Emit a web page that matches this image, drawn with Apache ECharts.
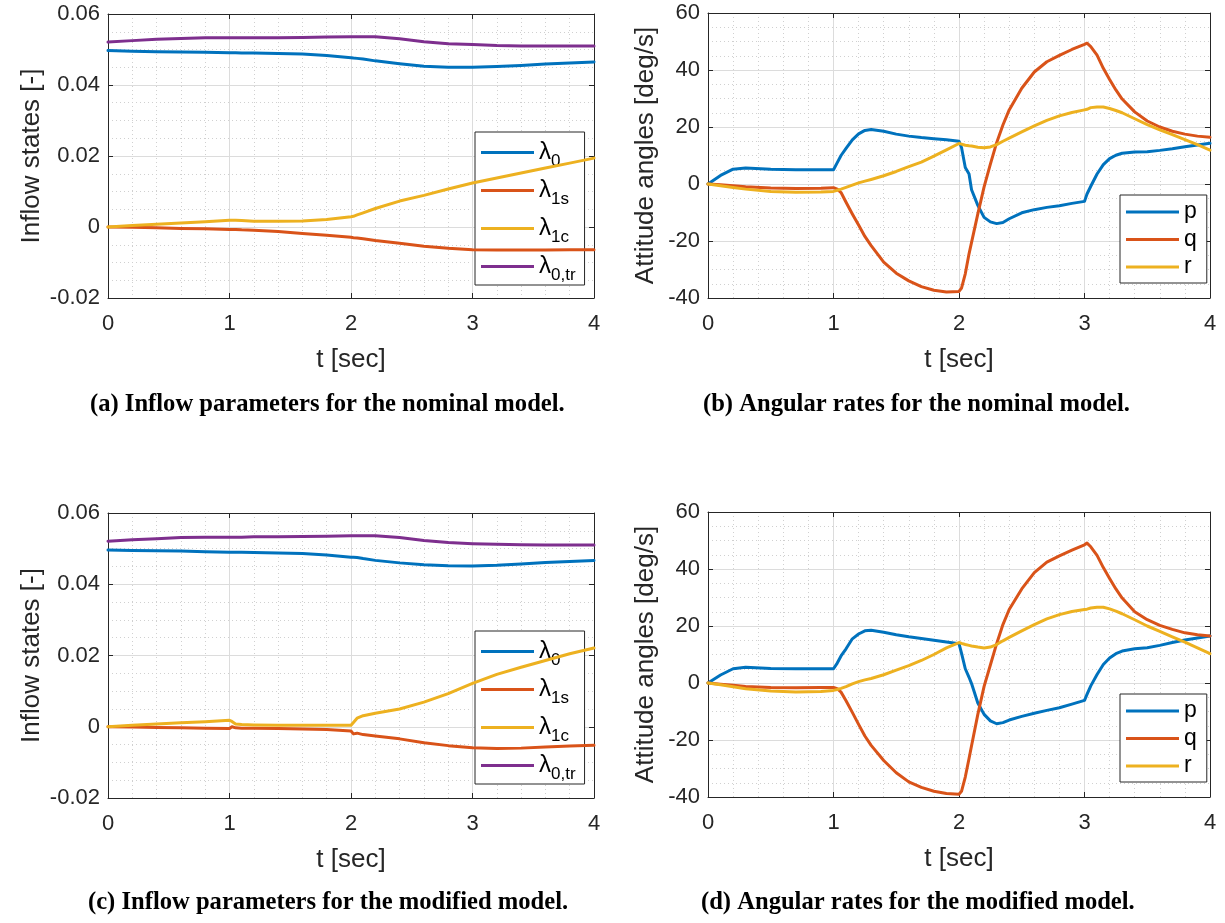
<!DOCTYPE html>
<html>
<head>
<meta charset="utf-8">
<script src="https://cdn.jsdelivr.net/npm/echarts@6/dist/echarts.min.js"></script>
<style>
html,body{margin:0;padding:0;background:#fff;}
#chart{width:1225px;height:923px;}
</style>
</head>
<body>
<div id="chart"></div>
<script>
// ---------- DATA ----------
const xTicks = [0, 1, 2, 3, 4];
const inflowTicks = [-0.02, 0, 0.02, 0.04, 0.06];
const rateTicks = [-40, -20, 0, 20, 40, 60];

const inflowNames = ['λ0', 'λ1s', 'λ1c', 'λ0,tr'];
const rateNames = ['p', 'q', 'r'];

const captions = [
  '(a) Inflow parameters for the nominal model.',
  '(b) Angular rates for the nominal model.',
  '(c) Inflow parameters for the modified model.',
  '(d) Angular rates for the modified model.'
];

// time samples [sec] for inflow panels
const tIn = [0,0.2,0.4,0.6,0.8,1.0,1.02,1.05,1.1,1.2,1.4,1.6,1.8,2.0,2.02,2.05,2.1,2.2,2.4,2.6,2.8,3.0,3.2,3.4,3.6,3.8,4.0];

// (a) nominal inflow
const aL0   = [0.0497,0.0495,0.0494,0.0493,0.0492,0.0491,0.0491,0.0491,0.0490,0.0490,0.0489,0.0487,0.0483,0.0477,0.0476,0.0475,0.0473,0.0468,0.0460,0.0453,0.0450,0.0450,0.0452,0.0455,0.0459,0.0462,0.0465];
const aL1s  = [0,-0.0001,-0.0002,-0.0004,-0.0005,-0.0007,-0.0007,-0.0007,-0.0008,-0.0009,-0.0013,-0.0018,-0.0023,-0.0029,-0.0030,-0.0031,-0.0033,-0.0038,-0.0046,-0.0054,-0.0060,-0.0064,-0.0065,-0.0065,-0.0065,-0.0064,-0.0064];
const aL1c  = [0,0.0004,0.0008,0.0011,0.0015,0.0019,0.0019,0.0019,0.0018,0.0016,0.0016,0.0017,0.0021,0.0029,0.0030,0.0034,0.0040,0.0052,0.0073,0.0089,0.0107,0.0124,0.0138,0.0152,0.0166,0.0180,0.0194];
const aL0tr = [0.0521,0.0525,0.0529,0.0531,0.0533,0.0533,0.0533,0.0533,0.0533,0.0533,0.0533,0.0534,0.0535,0.0536,0.0536,0.0536,0.0536,0.0536,0.0530,0.0522,0.0516,0.0514,0.0511,0.0510,0.0510,0.0510,0.0510];

// (c) modified inflow
const cL0   = [0.0496,0.0495,0.0494,0.0493,0.0491,0.0490,0.0490,0.0490,0.0490,0.0489,0.0488,0.0486,0.0482,0.0476,0.0476,0.0475,0.0472,0.0467,0.0460,0.0455,0.0452,0.0451,0.0453,0.0457,0.0461,0.0464,0.0467];
const cL1s  = [0,-0.0001,-0.0002,-0.0003,-0.0004,-0.0005,0.0000,-0.0003,-0.0004,-0.0004,-0.0005,-0.0006,-0.0008,-0.0012,-0.0020,-0.0018,-0.0022,-0.0026,-0.0034,-0.0045,-0.0053,-0.0059,-0.0061,-0.0060,-0.0057,-0.0054,-0.0052];
const cL1c  = [0,0.0004,0.0008,0.0011,0.0014,0.0018,0.0015,0.0008,0.0006,0.0005,0.0004,0.0004,0.0004,0.0004,0.0012,0.0024,0.0031,0.0038,0.0050,0.0069,0.0093,0.0122,0.0147,0.0167,0.0186,0.0205,0.0221];
const cL0tr = [0.0521,0.0525,0.0528,0.0531,0.0532,0.0532,0.0532,0.0532,0.0532,0.0533,0.0533,0.0534,0.0535,0.0536,0.0536,0.0536,0.0536,0.0536,0.0531,0.0523,0.0517,0.0514,0.0512,0.0511,0.0510,0.0510,0.0510];

// time samples [sec] for angular-rate panels
const tRate = [0,0.1,0.2,0.3,0.5,0.7,0.9,1.0,1.03,1.06,1.1,1.15,1.2,1.25,1.3,1.4,1.5,1.6,1.7,1.8,1.9,2.0,2.02,2.05,2.08,2.1,2.15,2.2,2.25,2.3,2.35,2.4,2.5,2.6,2.7,2.8,2.9,3.0,3.02,3.05,3.1,3.15,3.2,3.25,3.3,3.4,3.5,3.6,3.7,3.8,3.9,4.0];

// (b) nominal angular rates [deg/s]
const bP = [0,3.0,5.2,5.6,5.2,5.0,5.0,5.0, 7.5,10.0,12.5,15.5,17.6,18.8,19.1, 18.5,17.5,16.8,16.3,15.9,15.5,15.0, 12.8,5.8,3.5,-2.0,-7.5,-11.7,-13.3,-13.9,-13.5,-12.2, -10.1,-9.0,-8.2,-7.6,-6.8,-6.1, -3.5,-0.8,3.5,6.8,8.9,10.1,10.8, 11.2,11.3,11.8,12.4,13.1,13.7,14.3];
const bQ = [0,-0.3,-0.6,-1.0,-1.4,-1.6,-1.5,-1.3, -1.8,-3.0,-6.4,-10.5,-14.4,-18.4,-21.6, -27.4,-31.3,-34.0,-36.0,-37.3,-37.9,-37.7, -36.5,-31.5,-24.5,-20.5,-10.5,-1.0,7.0,14.5,20.7,26.0, 33.6,39.3,42.9,45.1,47.2,49.0, 49.4,48.2,45.2,40.6,36.7,33.0,29.8, 25.3,22.1,20.0,18.5,17.5,16.8,16.4];
const bR = [0,-0.6,-1.2,-1.8,-2.6,-2.9,-2.8,-2.6, -2.2,-1.8,-1.2,-0.4,0.4,1.0,1.6, 2.9,4.4,6.1,7.7,9.8,12.0,14.2, 14.0,13.6,13.4,13.3,12.9,12.7,13.0,13.8,15.0,16.1, 18.3,20.4,22.3,23.9,25.1,26.0, 26.2,26.8,27.0,27.0,26.5,25.8,25.0, 22.9,20.8,19.0,17.3,15.6,13.8,11.9];

// (d) modified angular rates [deg/s]
const dP = [0,2.8,5.0,5.5,5.1,5.0,5.0,5.0, 7.0,9.5,12.0,15.5,17.2,18.3,18.5, 17.8,16.9,16.2,15.6,15.0,14.4,13.8, 10.5,5.0,2.0,-0.2,-7.0,-11.0,-13.3,-14.3,-13.9,-13.0, -11.7,-10.6,-9.6,-8.7,-7.4,-6.1, -4.0,-1.0,3.0,6.5,8.8,10.3,11.2, 12.0,12.4,13.2,14.2,15.1,15.8,16.5];
const dQ = [0,-0.4,-0.8,-1.2,-1.6,-1.7,-1.6,-1.6, -2.0,-3.2,-6.2,-10.3,-14.5,-18.6,-21.9, -27.2,-31.5,-34.7,-36.6,-38.0,-38.8,-39.0, -38.0,-33.0,-26.5,-22.0,-11.0,-1.2,6.3,13.8,20.5,25.8, 33.0,38.7,42.4,44.6,46.6,48.5, 49.1,47.8,44.8,40.5,36.7,33.0,29.8, 25.0,22.2,20.2,18.8,17.6,16.9,16.5];
const dR = [0,-0.6,-1.3,-2.0,-2.8,-3.2,-3.0,-2.6, -2.3,-1.9,-1.3,-0.3,0.5,1.1,1.6, 2.9,4.5,6.1,7.9,10.0,12.3,14.2, 13.9,13.5,13.2,13.0,12.6,12.3,12.6,13.5,14.8,16.0, 18.3,20.5,22.5,24.0,25.1,25.8, 25.9,26.3,26.6,26.6,26.0,25.2,24.3, 22.2,20.0,18.1,16.2,14.3,12.3,10.3];

// ---------- STYLE ----------
const COLORS = ['#0072BD', '#D95319', '#EDB120', '#7E2F8E'];
const AX = '#262626';
const SANS = '"Liberation Sans", Arial, Helvetica, sans-serif';
const SERIF = '"Liberation Serif", "Times New Roman", serif';
const LW = 3;

const grids = [
  {left: 108, top: 14,  width: 486, height: 284},
  {left: 708, top: 13,  width: 502, height: 285},
  {left: 108, top: 513, width: 486, height: 285},
  {left: 708, top: 512, width: 502, height: 285}
];

const panels = [
  {type: 'inflow', t: tIn,   data: [aL0, aL1s, aL1c, aL0tr], names: inflowNames, legend: {left: 475, top: 132}},
  {type: 'rate',   t: tRate, data: [bP, bQ, bR],             names: rateNames,   legend: {left: 1120, top: 195}},
  {type: 'inflow', t: tIn,   data: [cL0, cL1s, cL1c, cL0tr], names: inflowNames, legend: {left: 475, top: 631}},
  {type: 'rate',   t: tRate, data: [dP, dQ, dR],             names: rateNames,   legend: {left: 1120, top: 694}}
];

const xAxes = [], yAxes = [], series = [], legends = [], graphics = [];

panels.forEach((p, gi) => {
  const yT = p.type === 'inflow' ? inflowTicks : rateTicks;
  const yMin = yT[0], yMax = yT[yT.length - 1], yInt = yT[1] - yT[0];
  const tick = {show: true, inside: true, length: 5, lineStyle: {color: AX, width: 1}};
  const line = {show: true, onZero: false, lineStyle: {color: AX, width: 1}};
  xAxes.push({
    type: 'value', gridIndex: gi, position: 'bottom', min: xTicks[0], max: xTicks[xTicks.length - 1], interval: 1,
    axisLine: line, axisTick: tick,
    axisLabel: {show: true, color: AX, fontSize: 22, fontFamily: SANS, margin: 15},
    splitLine: {show: true, lineStyle: {color: '#dcdcdc', width: 1}},
    minorTick: {show: false, splitNumber: 5},
    minorSplitLine: {show: true, lineStyle: {color: '#d0d0d0', width: 1, type: [1, 3]}},
    name: 't [sec]', nameLocation: 'middle', nameGap: 49,
    nameTextStyle: {color: AX, fontSize: 26, fontFamily: SANS}
  });
  xAxes.push({
    type: 'value', gridIndex: gi, position: 'top', min: xTicks[0], max: xTicks[xTicks.length - 1], interval: 1,
    axisLine: line, axisTick: tick, axisLabel: {show: false}, splitLine: {show: false}
  });
  yAxes.push({
    type: 'value', gridIndex: gi, position: 'left', min: yMin, max: yMax, interval: yInt,
    axisLine: line, axisTick: tick,
    axisLabel: {show: true, color: AX, fontSize: 22, fontFamily: SANS, margin: 8,
      formatter: v => String(Math.round(v * 1000) / 1000)},
    splitLine: {show: true, lineStyle: {color: '#dcdcdc', width: 1}},
    minorTick: {show: false, splitNumber: 4},
    minorSplitLine: {show: true, lineStyle: {color: '#d0d0d0', width: 1, type: [1, 3]}},
    name: p.type === 'inflow' ? 'Inflow states [-]' : 'Attitude angles [deg/s]',
    nameLocation: 'middle', nameGap: p.type === 'inflow' ? 63 : 49,
    nameTextStyle: {color: AX, fontSize: 26, fontFamily: SANS}
  });
  yAxes.push({
    type: 'value', gridIndex: gi, position: 'right', min: yMin, max: yMax, interval: yInt,
    axisLine: line, axisTick: tick, axisLabel: {show: false}, splitLine: {show: false}
  });

  p.data.forEach((vals, si) => {
    series.push({
      type: 'line', name: p.names[si], xAxisIndex: gi * 2, yAxisIndex: gi * 2,
      data: p.t.map((t, i) => [t, vals[i]]),
      symbol: 'none', showSymbol: false, smooth: false, animation: false,
      lineStyle: {color: COLORS[si], width: LW, join: 'round', cap: 'round'}, itemStyle: {color: COLORS[si]},
      z: 3 + si
    });
  });

  const isIn = p.type === 'inflow';
  legends.push({
    show: true, orient: 'vertical', left: p.legend.left, top: p.legend.top,
    data: p.names.map(n => ({name: n, icon: 'rect'})), selectedMode: false,
    itemWidth: 53, itemHeight: 3, itemGap: isIn ? 3 : 1.5,
    padding: isIn ? [3, 9, 1, 6] : [4, 10, 3, 6],
    backgroundColor: '#ffffff', borderColor: AX, borderWidth: 1, borderRadius: 0,
    textStyle: isIn ? {
      color: '#000', fontFamily: SANS,
      rich: {
        l: {fontSize: 24, lineHeight: 26, fontFamily: SANS, color: '#000', verticalAlign: 'middle'},
        s: {fontSize: 17, lineHeight: 16, padding: [18, 0, 0, 0], fontFamily: SANS, color: '#000', verticalAlign: 'middle'}
      }
    } : {color: '#000', fontFamily: SANS, fontSize: 23, lineHeight: 26},
    formatter: isIn ? (name => '{l|λ}{s|' + name.slice(1) + '}') : (name => name)
  });
});

const capPos = [[90, 405], [703, 405], [88, 903], [701, 903]];
captions.forEach((c, i) => {
  graphics.push({
    type: 'text', x: capPos[i][0], y: capPos[i][1], silent: true,
    style: {text: c, fill: '#000', font: 'bold 24.6px ' + SERIF, textAlign: 'left', textVerticalAlign: 'middle'}
  });
});

const chart = echarts.init(document.getElementById('chart'), null, {renderer: 'canvas'});
chart.setOption({
  animation: false,
  backgroundColor: '#ffffff',
  grid: grids,
  xAxis: xAxes,
  yAxis: yAxes,
  legend: legends,
  series: series,
  graphic: graphics
});
</script>
</body>
</html>
